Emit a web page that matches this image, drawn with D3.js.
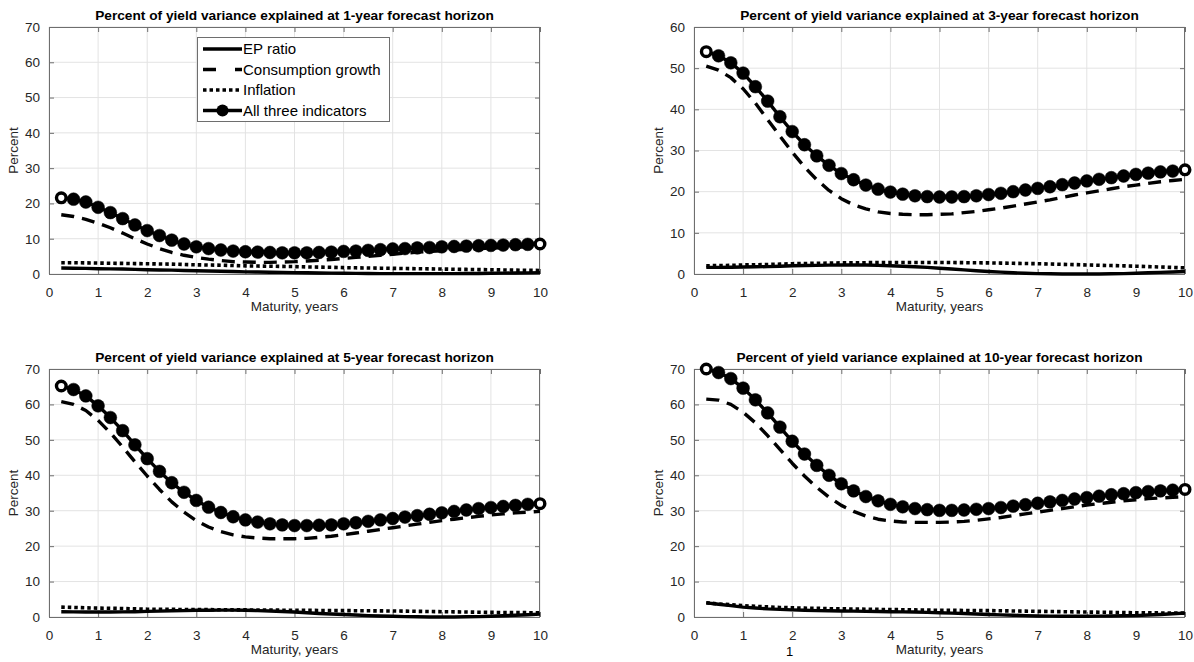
<!DOCTYPE html>
<html>
<head>
<meta charset="utf-8">
<script src="https://cdn.jsdelivr.net/npm/d3@7"></script>
<style>
  html, body { margin: 0; padding: 0; background: #fff; }
  svg { display: block; font-family: "Liberation Sans", Arial, Helvetica, sans-serif; }
</style>
</head>
<body>
<svg id="chart" width="1194" height="662"></svg>
<script>
// ---------------- DATA ----------------
const maturity = [0.25,0.5,0.75,1,1.25,1.5,1.75,2,2.25,2.5,2.75,3,3.25,3.5,3.75,4,4.25,4.5,4.75,5,
                  5.25,5.5,5.75,6,6.25,6.5,6.75,7,7.25,7.5,7.75,8,8.25,8.5,8.75,9,9.25,9.5,9.75,10];

const xTicks = [0,1,2,3,4,5,6,7,8,9,10];
const yTicks70 = [0,10,20,30,40,50,60,70];
const yTicks60 = [0,10,20,30,40,50,60];

const seriesNames = ["EP ratio", "Consumption growth", "Inflation", "All three indicators"];
const horizonTitles = [
  "Percent of yield variance explained at 1-year forecast horizon",
  "Percent of yield variance explained at 3-year forecast horizon",
  "Percent of yield variance explained at 5-year forecast horizon",
  "Percent of yield variance explained at 10-year forecast horizon"
];
const xLabel = "Maturity, years";
const yLabel = "Percent";

// 1-year horizon
const ep1   = [1.7,1.65,1.6,1.5,1.45,1.4,1.3,1.2,1.15,1.1,1.0,0.9,0.85,0.8,0.7,0.6,0.55,0.5,0.45,0.4,
               0.35,0.3,0.25,0.2,0.18,0.15,0.12,0.1,0.1,0.1,0.1,0.1,0.12,0.14,0.16,0.2,0.24,0.28,0.33,0.4];
const cons1 = [16.8,16.3,15.5,14.4,13.1,11.6,10.0,8.5,7.2,6.1,5.3,4.7,4.2,3.8,3.5,3.4,3.3,3.3,3.4,3.5,
               3.7,3.9,4.1,4.4,4.7,5.0,5.3,5.6,5.9,6.2,6.4,6.6,6.8,7.0,7.2,7.3,7.5,7.6,7.7,7.8];
const infl1 = [3.2,3.2,3.15,3.1,3.05,3.0,2.95,2.9,2.85,2.8,2.7,2.6,2.55,2.5,2.4,2.3,2.25,2.2,2.15,2.1,
               2.0,1.95,1.9,1.8,1.75,1.7,1.65,1.6,1.55,1.5,1.45,1.4,1.35,1.3,1.25,1.2,1.15,1.1,1.05,1.0];
const all1  = [21.6,21.2,20.4,18.9,17.4,15.7,13.9,12.3,10.9,9.6,8.5,7.7,7.2,6.8,6.5,6.3,6.2,6.1,6.0,6.0,
               6.0,6.1,6.2,6.4,6.5,6.7,6.9,7.1,7.2,7.4,7.5,7.7,7.8,7.9,8.0,8.1,8.2,8.3,8.4,8.5];

// 3-year horizon
const ep3   = [1.6,1.6,1.65,1.7,1.75,1.8,1.9,2.0,2.05,2.1,2.15,2.2,2.2,2.2,2.1,2.0,1.9,1.75,1.6,1.4,
               1.2,1.0,0.8,0.6,0.45,0.3,0.2,0.1,0.05,0.0,0.0,0.0,0.0,0.05,0.1,0.2,0.3,0.4,0.5,0.6];
const cons3 = [50.5,49.5,47.7,45.0,41.5,37.5,33.5,29.6,26.0,22.9,20.3,18.3,16.8,15.8,15.1,14.7,14.5,14.4,14.4,14.5,
               14.6,14.9,15.2,15.6,16.0,16.5,17.0,17.5,18.0,18.6,19.2,19.7,20.2,20.7,21.2,21.6,22.0,22.4,22.7,23.0];
const infl3 = [2.0,2.05,2.1,2.2,2.25,2.3,2.4,2.5,2.55,2.6,2.65,2.7,2.72,2.75,2.78,2.8,2.8,2.8,2.8,2.8,
               2.78,2.75,2.72,2.7,2.65,2.6,2.55,2.5,2.42,2.35,2.28,2.2,2.12,2.05,1.98,1.9,1.8,1.7,1.6,1.5];
const all3  = [54.0,53.0,51.3,48.8,45.5,42.0,38.2,34.6,31.4,28.7,26.4,24.4,22.9,21.6,20.6,19.9,19.4,19.0,18.8,18.7,
               18.7,18.8,19.0,19.3,19.6,20.0,20.4,20.8,21.2,21.7,22.1,22.6,23.0,23.4,23.8,24.2,24.5,24.8,25.0,25.3];

// 5-year horizon
const ep5   = [1.5,1.45,1.4,1.4,1.4,1.45,1.5,1.6,1.65,1.75,1.8,1.9,1.9,1.95,1.95,1.9,1.8,1.7,1.55,1.4,
               1.2,1.0,0.85,0.7,0.55,0.4,0.3,0.2,0.1,0.05,0.0,0.0,0.0,0.05,0.1,0.2,0.35,0.5,0.65,0.8];
const cons5 = [60.8,60.0,58.3,55.5,52.0,48.0,43.8,39.8,36.0,32.5,29.6,27.2,25.4,24.1,23.2,22.6,22.3,22.1,22.1,22.1,
               22.2,22.5,22.8,23.2,23.7,24.2,24.7,25.2,25.7,26.2,26.7,27.2,27.6,28.0,28.4,28.8,29.1,29.4,29.6,29.8];
const infl5 = [2.8,2.7,2.6,2.5,2.45,2.4,2.3,2.2,2.18,2.15,2.12,2.1,2.08,2.05,2.02,2.0,1.98,1.95,1.92,1.9,
               1.88,1.85,1.82,1.8,1.78,1.75,1.72,1.7,1.65,1.6,1.55,1.5,1.45,1.4,1.35,1.3,1.28,1.25,1.22,1.2];
const all5  = [65.2,64.2,62.4,59.6,56.3,52.6,48.6,44.7,41.1,37.9,35.2,32.9,31.0,29.5,28.3,27.4,26.8,26.3,26.0,25.8,
               25.8,25.9,26.0,26.3,26.6,27.0,27.4,27.8,28.2,28.6,29.0,29.4,29.8,30.2,30.6,30.9,31.2,31.5,31.8,32.0];

// 10-year horizon
const ep10   = [4.0,3.6,3.2,2.8,2.55,2.3,2.15,2.0,1.9,1.8,1.75,1.7,1.65,1.6,1.55,1.5,1.45,1.4,1.3,1.2,
                1.1,1.0,0.85,0.7,0.6,0.5,0.4,0.3,0.25,0.2,0.2,0.2,0.25,0.3,0.35,0.4,0.55,0.7,0.9,1.1];
const cons10 = [61.5,61.2,60.0,57.8,54.8,51.2,47.3,43.4,39.8,36.6,33.8,31.5,29.8,28.5,27.6,27.1,26.8,26.7,26.7,26.7,
                26.8,27.0,27.3,27.7,28.1,28.6,29.1,29.6,30.1,30.6,31.1,31.6,32.0,32.4,32.8,33.1,33.4,33.6,33.8,34.0];
const infl10 = [4.0,3.7,3.45,3.2,3.0,2.85,2.7,2.6,2.5,2.45,2.35,2.3,2.25,2.2,2.15,2.1,2.05,2.0,1.95,1.9,
                1.88,1.85,1.82,1.8,1.75,1.7,1.65,1.6,1.55,1.5,1.45,1.4,1.35,1.3,1.25,1.2,1.18,1.15,1.12,1.1];
const all10  = [70.0,69.0,67.3,64.6,61.3,57.6,53.6,49.6,46.0,42.8,40.0,37.6,35.6,34.0,32.8,31.8,31.1,30.6,30.3,30.1,
                30.1,30.2,30.4,30.6,30.9,31.3,31.7,32.1,32.5,32.9,33.3,33.7,34.1,34.5,34.8,35.1,35.4,35.6,35.8,36.0];

// ---------------- DRAWING ----------------
const svg = d3.select("#chart");
const panels = [
  { left: 49,  right: 540,  top: 27,  bottom: 274, ymax: 70, yTicks: yTicks70, title: horizonTitles[0], data: [ep1, cons1, infl1, all1], legend: true },
  { left: 694, right: 1185, top: 27,  bottom: 274, ymax: 60, yTicks: yTicks60, title: horizonTitles[1], data: [ep3, cons3, infl3, all3] },
  { left: 49,  right: 540,  top: 369, bottom: 617, ymax: 70, yTicks: yTicks70, title: horizonTitles[2], data: [ep5, cons5, infl5, all5] },
  { left: 694, right: 1185, top: 369, bottom: 617, ymax: 70, yTicks: yTicks70, title: horizonTitles[3], data: [ep10, cons10, infl10, all10] }
];

const styles = [
  { dash: null,    width: 3.4 },
  { dash: "13,8",  width: 3.4 },
  { dash: "3.5,3", width: 3.6 },
  { dash: null,    width: 3.4, marker: true }
];

const axisColor = "#6e6e6e";
const textColor = "#262626";
const gridColor = "#e3e3e3";

panels.forEach(p => {
  const x = d3.scaleLinear().domain([0, 10]).range([p.left, p.right]);
  const y = d3.scaleLinear().domain([0, p.ymax]).range([p.bottom, p.top]);
  const g = svg.append("g");

  // grid
  g.selectAll(".gx").data(xTicks).join("line")
    .attr("x1", d => x(d)).attr("x2", d => x(d))
    .attr("y1", p.top).attr("y2", p.bottom)
    .attr("stroke", gridColor).attr("stroke-width", 1);
  g.selectAll(".gy").data(p.yTicks).join("line")
    .attr("x1", p.left).attr("x2", p.right)
    .attr("y1", d => y(d)).attr("y2", d => y(d))
    .attr("stroke", gridColor).attr("stroke-width", 1);

  // axes via d3 axis (ticks inside)
  const tickLen = 5;
  const xAxisB = d3.axisBottom(x).tickValues(xTicks).tickSizeInner(-tickLen).tickSizeOuter(0).tickPadding(tickLen + 8).tickFormat(d3.format("d"));
  const xAxisT = d3.axisTop(x).tickValues(xTicks).tickSizeInner(-tickLen).tickSizeOuter(0).tickFormat("");
  const yAxisL = d3.axisLeft(y).tickValues(p.yTicks).tickSizeInner(-tickLen).tickSizeOuter(0).tickPadding(tickLen + 4).tickFormat(d3.format("d"));
  const yAxisR = d3.axisRight(y).tickValues(p.yTicks).tickSizeInner(-tickLen).tickSizeOuter(0).tickFormat("");

  const styleAxis = sel => {
    sel.select(".domain").remove();
    sel.selectAll("line").attr("stroke", axisColor);
    sel.selectAll("text").attr("fill", textColor).attr("font-size", "13.5px")
      .attr("font-family", "'Liberation Sans', Arial, sans-serif");
  };
  g.append("g").attr("transform", `translate(0,${p.bottom})`).call(xAxisB).call(styleAxis);
  g.append("g").attr("transform", `translate(0,${p.top})`).call(xAxisT).call(styleAxis);
  g.append("g").attr("transform", `translate(${p.left},0)`).call(yAxisL).call(styleAxis);
  g.append("g").attr("transform", `translate(${p.right},0)`).call(yAxisR).call(styleAxis);

  // box
  g.append("rect").attr("x", p.left + 0.5).attr("y", p.top + 0.5)
    .attr("width", p.right - p.left - 1).attr("height", p.bottom - p.top)
    .attr("fill", "none").attr("stroke", axisColor).attr("stroke-width", 1);

  // series lines
  const line = d3.line().x((d, i) => x(maturity[i])).y(d => y(d)).curve(d3.curveLinear);
  p.data.forEach((vals, si) => {
    const st = styles[si];
    const path = g.append("path").datum(vals).attr("d", line)
      .attr("fill", "none").attr("stroke", "#000").attr("stroke-width", st.width)
      .attr("stroke-linejoin", "round");
    if (st.dash) path.attr("stroke-dasharray", st.dash).attr("stroke-linecap", "butt");
    if (st.marker) {
      const isEnd = i => i === 0 || i === vals.length - 1;
      g.selectAll(null).data(vals).join("circle")
        .attr("cx", (d, i) => x(maturity[i])).attr("cy", d => y(d))
        .attr("r", (d, i) => isEnd(i) ? 4.8 : 6.4)
        .attr("fill", (d, i) => isEnd(i) ? "#fff" : "#000")
        .attr("stroke", "#000")
        .attr("stroke-width", (d, i) => isEnd(i) ? 3.4 : 0.5);
    }
  });

  // title
  g.append("text").attr("x", (p.left + p.right) / 2).attr("y", p.top - 7)
    .attr("text-anchor", "middle").attr("font-weight", "bold").attr("font-size", "13.7px")
    .attr("fill", "#000").text(p.title);
  // x label
  g.append("text").attr("x", (p.left + p.right) / 2).attr("y", p.bottom + 37)
    .attr("text-anchor", "middle").attr("font-size", "13.5px").attr("fill", textColor).text(xLabel);
  // y label
  g.append("text").attr("transform", `translate(${p.left - 31},${(p.top + p.bottom) / 2}) rotate(-90)`)
    .attr("text-anchor", "middle").attr("font-size", "13.5px").attr("fill", textColor).text(yLabel);

  // legend
  if (p.legend) {
    const lg = g.append("g");
    const lx = 197, ly = 37, lw = 192, lh = 84;
    lg.append("rect").attr("x", lx + 0.5).attr("y", ly + 0.5).attr("width", lw).attr("height", lh)
      .attr("fill", "#fff").attr("stroke", axisColor).attr("stroke-width", 1);
    seriesNames.forEach((name, si) => {
      const st = styles[si];
      const yy = ly + 12 + si * 20.5;
      const ln = lg.append("line").attr("x1", lx + 6).attr("x2", lx + 45).attr("y1", yy).attr("y2", yy)
        .attr("stroke", "#000").attr("stroke-width", st.width);
      if (st.dash) ln.attr("stroke-dasharray", si === 1 ? "13,19,7" : "3.5,3");
      if (st.marker) lg.append("circle").attr("cx", lx + 25.5).attr("cy", yy).attr("r", 6).attr("fill", "#000");
      lg.append("text").attr("x", lx + 46).attr("y", yy + 5.3).attr("font-size", "15px")
        .attr("fill", "#000").text(name);
    });
  }
});

// stray page fragment below the bottom-right panel
svg.append("text").attr("x", 786).attr("y", 656).attr("font-size", "13px").attr("fill", "#000").text("1");
</script>
</body>
</html>
